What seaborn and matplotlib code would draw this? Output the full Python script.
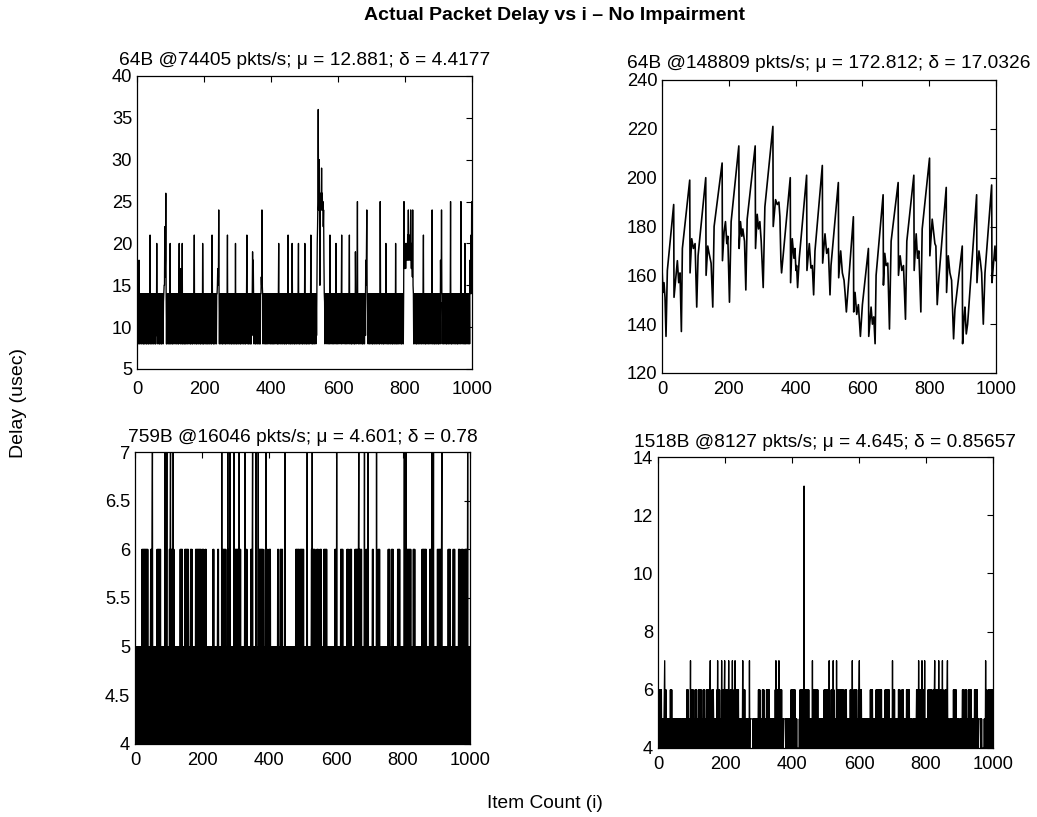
import numpy as np
import pandas as pd
import matplotlib
matplotlib.use("Agg")
import matplotlib.pyplot as plt
from matplotlib.ticker import FuncFormatter
import seaborn as sns

# ---------------- data ----------------
suptitle = "Actual Packet Delay vs i \u2013 No Impairment"
titles = [
    "64B @74405 pkts/s; \u03bc = 12.881; \u03b4 = 4.4177",
    "64B @148809 pkts/s; \u03bc = 172.812; \u03b4 = 17.0326",
    "759B @16046 pkts/s; \u03bc = 4.601; \u03b4 = 0.78",
    "1518B @8127 pkts/s; \u03bc = 4.645; \u03b4 = 0.85657",
]
x_ticks = [0, 200, 400, 600, 800, 1000]

# Panel 1 delays (usec), 1000 samples, 10 per group
p1_groups = [
    "8 14 17 9 14 8 18 13 8 14", "9 14 8 13 14 8 14 9 13 8", "14 8 14 12 8 14 9 14 8 13", "8 14 9 13 8 14 8 14 9 21", "8 14 13 8 14 9 14 8 12 14",
    "8 14 9 14 8 13 8 14 9 20", "9 14 8 14 10 13 8 14 8 14", "9 13 8 14 8 14 9 14 8 13", "14 15 15 22 16 18 26 14 8 13", "8 14 9 14 8 12 14 8 14 20",
    "8 14 9 13 8 14 8 14 11 14", "8 13 9 14 8 14 9 14 8 14", "10 14 8 13 8 14 20 9 14 8", "17 14 8 14 9 20 8 13 8 14", "9 14 8 14 8 12 14 8 14 9",
    "13 8 14 9 14 8 14 10 13 8", "14 8 13 9 14 8 14 8 14 9", "14 21 8 14 9 13 8 14 8 14", "9 14 8 12 14 8 14 9 13 8", "14 8 14 9 13 8 20 14 8 14",
    "8 13 9 14 8 14 10 14 8 13", "8 14 9 14 8 13 14 8 14 9", "14 8 13 8 21 14 9 14 8 14", "8 12 14 8 14 9 13 8 14 14", "15 17 15 16 24 14 8 13 9 14",
    "8 14 9 14 8 13 8 14 10 14", "8 14 9 13 8 14 8 14 9 13", "21 8 14 9 14 8 12 14 8 14", "9 13 8 14 8 14 9 14 8 13", "14 8 14 9 20 8 13 8 14 9",
    "14 8 12 14 8 14 9 13 8 14", "8 14 9 14 8 13 10 14 8 14", "9 13 8 14 8 14 9 14 21 8", "14 9 13 8 14 8 14 10 14 8", "13 8 14 9 14 19 15 18 14 8",
    "14 9 13 8 14 8 14 9 14 8", "12 14 8 14 9 13 8 14 8 14", "14 16 15 24 15 14 8 13 9 14", "8 14 9 14 8 13 8 14 10 14", "8 13 9 14 8 14 9 14 8 12",
    "14 8 14 9 13 8 14 8 14 9", "14 8 13 10 14 8 14 9 13 8", "14 8 14 20 8 13 9 14 8 14", "9 14 8 12 14 8 14 9 13 8", "14 8 14 9 14 8 13 8 14 10",
    "14 21 8 13 9 14 8 14 8 14", "9 13 8 20 14 8 14 9 14 8", "13 8 14 9 14 8 12 14 8 14", "9 14 20 8 13 8 14 9 14 8", "14 10 13 8 14 8 14 9 14 8",
    "13 20 8 14 9 14 8 13 8 14", "9 14 8 12 14 8 14 9 13 21", "8 14 9 14 8 13 8 14 10 14", "8 13 9 14 8 14 9 14 20 22", "25 36 24 26 30 24 15 24 26 25",
    "24 29 24 26 24 25 22 24 18 14", "13 8 14 9 13 10 14 8 14 9", "13 8 14 9 14 8 21 10 14 8", "13 9 14 8 14 10 13 8 14 9", "14 8 13 9 20 8 14 10 14 8",
    "13 9 14 8 14 9 13 10 14 8", "14 21 8 13 9 14 10 14 8 13", "9 14 8 14 10 13 8 14 9 14", "8 13 9 14 21 8 14 9 13 8", "14 8 14 10 13 8 14 9 14 8",
    "13 8 19 14 9 14 8 14 25 9", "14 8 13 10 14 8 14 9 13 8", "14 9 14 8 13 8 14 10 14 8", "13 9 14 18 15 20 24 14 9 13", "8 14 9 14 8 13 10 14 8 14",
    "9 13 8 14 8 14 9 14 8 12", "14 8 14 9 13 8 14 10 14 8", "13 9 14 8 14 8 25 14 9 13", "8 14 9 14 8 13 8 14 10 14", "8 13 9 20 8 14 9 14 8 13",
    "14 8 14 9 14 8 12 14 8 14", "9 13 8 14 8 14 9 14 8 13", "14 8 20 9 14 8 13 8 14 10", "14 8 13 9 14 8 14 9 14 8", "13 8 14 10 14 8 14 25 17 19",
    "18 20 17 19 18 20 19 18 21 19", "24 18 20 19 21 18 20 24 19 17", "20 18 16 24 15 14 8 13 9 14", "8 14 9 13 8 14 8 14 10 14", "8 13 9 14 8 14 9 14 8 12",
    "14 8 14 9 14 21 8 13 9 14", "8 14 8 14 9 13 8 14 10 14", "8 13 9 14 8 14 9 14 8 13", "14 24 8 14 9 13 8 14 8 14", "9 14 8 12 14 8 14 9 13 8",
    "14 8 14 9 14 8 18 14 15 24", "14 8 13 9 14 8 14 10 13 8", "14 9 14 8 13 8 14 9 14 8", "12 14 8 14 9 13 25 8 14 8", "14 9 14 8 13 10 14 8 14 9",
    "13 8 14 9 14 8 14 8 13 9", "14 8 14 10 13 8 14 25 9 14", "8 13 9 14 8 14 9 14 8 20", "14 8 13 9 14 8 14 10 14 8", "13 9 14 8 18 14 15 21 14 25",
]

# Panel 2 delays: vertices of the sawtooth trace (item index, delay usec)
p2_x = [0, 3, 6, 9, 12, 16, 35, 36, 42, 46, 50, 54, 58, 61, 83, 84, 89, 94, 99, 104, 108,
        131, 132, 137, 141, 147, 152, 156, 180, 181, 186, 190, 194, 197, 202, 207,
        230, 231, 235, 239, 242, 247, 251, 255, 279, 280, 285, 289, 293, 297, 303, 308,
        332, 333, 340, 345, 350, 353, 356, 358, 384, 385, 390, 395, 398, 401, 403, 406, 411,
        433, 434, 441, 446, 450, 454, 458, 480, 481, 488, 493, 498, 503, 506,
        528, 529, 535, 540, 545, 548, 552, 573, 574, 578, 583, 588, 594, 600, 618, 619,
        626, 630, 634, 638, 641, 662, 663, 667, 671, 676, 681, 686, 707, 708, 713, 718,
        723, 729, 733, 754, 755, 761, 765, 769, 775, 779, 801, 802, 809, 814, 817, 820,
        824, 829, 851, 852, 857, 862, 867, 873, 877, 899, 900, 904, 907, 911, 915,
        942, 943, 949, 953, 957, 962, 967, 987, 988, 992, 997, 999]
p2_y = [163, 153, 157, 151, 135, 162, 189, 151, 160, 166, 157, 161, 137, 171, 199, 161, 175, 171, 173, 147, 168,
        200, 160, 172, 169, 165, 147, 180, 206, 166, 178, 182, 173, 176, 149, 182,
        213, 171, 182, 176, 179, 174, 154, 183, 213, 171, 185, 179, 182, 174, 155, 188,
        221, 180, 191, 189, 190, 184, 166, 161, 200, 157, 175, 167, 171, 162, 164, 155, 167,
        201, 162, 173, 163, 164, 152, 170, 205, 165, 177, 169, 171, 152, 164,
        198, 159, 170, 161, 158, 153, 145, 184, 145, 153, 144, 148, 135, 148, 171, 135,
        147, 140, 143, 132, 160, 193, 156, 169, 164, 165, 138, 174, 198, 160, 168, 162,
        164, 142, 174, 201, 162, 177, 167, 170, 145, 179, 208, 168, 183, 177, 173, 172,
        148, 159, 196, 153, 168, 161, 158, 134, 146, 172, 132, 142, 147, 136, 140,
        193, 157, 170, 166, 161, 140, 161, 197, 157, 164, 172, 166]

# Panel 3 delays, 1000 samples, one hex digit each, 10 per group
p3_digits = (
    "5454545454 4545454545 4646464646 6464646464 5454545646 4674545454 5454546464 6464646454 4545454546 7464574545 "
    "4546467464 6464746454 5454555454 4545464646 4645454546 4646464646 5454546464 6454545454 4646464646 4646464645 "
    "4646465454 6464545454 4544454545 4546464545 5454545646 4545454547 4546464646 4645454745 4646745454 5454547464 "
    "6464646464 4746464545 4545454574 6464645454 5455546464 6745454545 4745454574 6464646464 6464545456 4746464545 "
    "6464645454 5454544545 4545546464 5454646464 6454545474 5454545455 5454544545 4545455554 6464646464 6546464646 "
    "4646454545 4545745454 5454545647 4646464645 4546464654 5464646454 4545646464 6464545454 5455545454 4545454646 "
    "6474545454 5454646464 6454545455 4546464654 5464646454 4545454646 4646464674 6464646454 5454574545 6464547454 "
    "5454545456 4645454545 4745546464 6454545455 4545444545 5454556464 6454556464 6454545454 5454646464 6454545455 "
    "4545745457 4646464646 4646454545 4646464545 5455545454 4545454646 4646464646 5454544545 6464647464 5745454545 "
    "4546464646 4646467454 5454545555 4545464646 4645454545 6464645454 5454546464 6454564646 4545464646 6457454545"
)
# Panel 4 delays, 1000 samples, one hex digit each ("d" = 13), 10 per group
p4_digits = (
    "6464646464 6454545456 7464645454 4545454646 4645454545 4545454545 5454545454 5554545454 5454546464 6454545746 "
    "4646464545 4646464545 4646464646 4545464646 4545464646 4646467454 5646465454 5454546474 6464645554 7454646467 "
    "4646464646 4745456464 6474645454 7464646464 6454545454 5557464646 4545454545 4547455555 5555454545 4545454545 "
    "6464645454 5464646454 5454646464 6464545454 5454545454 6474646464 6746464646 4545455555 5454545454 5454545646 "
    "4646464646 5454544444 4454646464 646464d464 6464646464 6454545454 4746464646 4646464645 4545454545 5454546464 "
    "6464646464 4745454646 4647464545 4547464646 4646464646 4646555464 6464545454 5454646464 7464546464 6464545464 "
    "6746464645 4545454545 5454545454 5454646464 6455545454 5646464646 4646464645 5554545464 6464646464 6454545454 "
    "7464646454 5454545464 6464545464 6464545454 5464646464 6454545454 4545454545 4564646474 6464646474 6464647454 "
    "5454546464 6464646454 5646467464 6464645474 5456464647 4645454646 4646745454 4545454545 5464646464 6454545454 "
    "4545454556 4646454646 4645454646 4646464545 4545464646 4646454555 5554545444 4444545474 6464545646 4646464646"
)

p1_y = [int(v) for g in p1_groups for v in g.split()]
p3_y = [int(c, 16) for c in p3_digits if not c.isspace()]
p4_y = [int(c, 16) for c in p4_digits if not c.isspace()]

panels = [
    dict(x=np.arange(len(p1_y)), y=p1_y, ylim=(5, 40), yticks=[5, 10, 15, 20, 25, 30, 35, 40],
         lw=0.95, tpad=8, xpad=9),
    dict(x=np.array(p2_x), y=p2_y, ylim=(120, 240), yticks=[120, 140, 160, 180, 200, 220, 240],
         lw=1.2, tpad=9, xpad=6),
    dict(x=np.arange(len(p3_y)), y=p3_y, ylim=(4, 7), yticks=[4, 4.5, 5, 5.5, 6, 6.5, 7],
         lw=0.95, tpad=7, xpad=6),
    dict(x=np.arange(len(p4_y)), y=p4_y, ylim=(4, 14), yticks=[4, 6, 8, 10, 12, 14],
         lw=0.95, tpad=7.5, xpad=6),
]

# axes rectangles measured in the reference (pixels: left, top, right, bottom)
W, H = 1037, 817
boxes = [(137, 76, 472, 369), (662, 80, 996, 373), (135, 452, 470, 744), (658, 457, 993, 748)]

# ---------------- drawing ----------------
sns.set_theme(style="white")
plt.rcParams['font.family'] = ['Liberation Sans', 'DejaVu Sans']
plt.rcParams.update({"text.color": "black", "axes.labelcolor": "black",
                     "xtick.color": "black", "ytick.color": "black",
                     "axes.edgecolor": "black"})

fig = plt.figure(figsize=(W / 100, H / 100), dpi=100)
fig.patch.set_facecolor("white")

fmt = FuncFormatter(lambda v, p: f"{v:g}")
for (l, t, r, b), spec, title in zip(boxes, panels, titles):
    ax = fig.add_axes([l / W, 1 - b / H, (r - l) / W, (b - t) / H])
    df = pd.DataFrame({"i": spec["x"], "d": spec["y"]})
    sns.lineplot(data=df, x="i", y="d", ax=ax, color="black", linewidth=spec["lw"],
                 estimator=None, sort=False)
    ax.set_xlim(0, 1000)
    ax.set_ylim(*spec["ylim"])
    ax.set_xticks(x_ticks)
    ax.set_yticks(spec["yticks"])
    ax.yaxis.set_major_formatter(fmt)
    ax.set_xlabel("")
    ax.set_ylabel("")
    ax.set_facecolor("white")
    for s in ax.spines.values():
        s.set_color("black")
        s.set_linewidth(0.9)
        s.set_visible(True)
    ax.tick_params(direction="in", top=True, right=True, length=4, width=0.8,
                   colors="black", labelcolor="black", labelsize=13.2)
    ax.tick_params(axis="x", pad=spec["xpad"])
    ax.tick_params(axis="y", pad=3.5)
    ax.set_title(title, fontsize=13.8, pad=spec["tpad"], color="black")

fig.text(555 / W, 1 - 15 / H, suptitle, ha="center", va="center", fontsize=14,
         fontweight="bold", color="black")
fig.text(19 / W, 1 - 403 / H, "Delay (usec)", rotation=90, ha="center", va="center",
         fontsize=14, color="black")
fig.text(545 / W, 1 - 803 / H, "Item Count (i)", ha="center", va="center",
         fontsize=13.8, color="black")

fig.savefig("out.png", dpi=100, facecolor="white")
